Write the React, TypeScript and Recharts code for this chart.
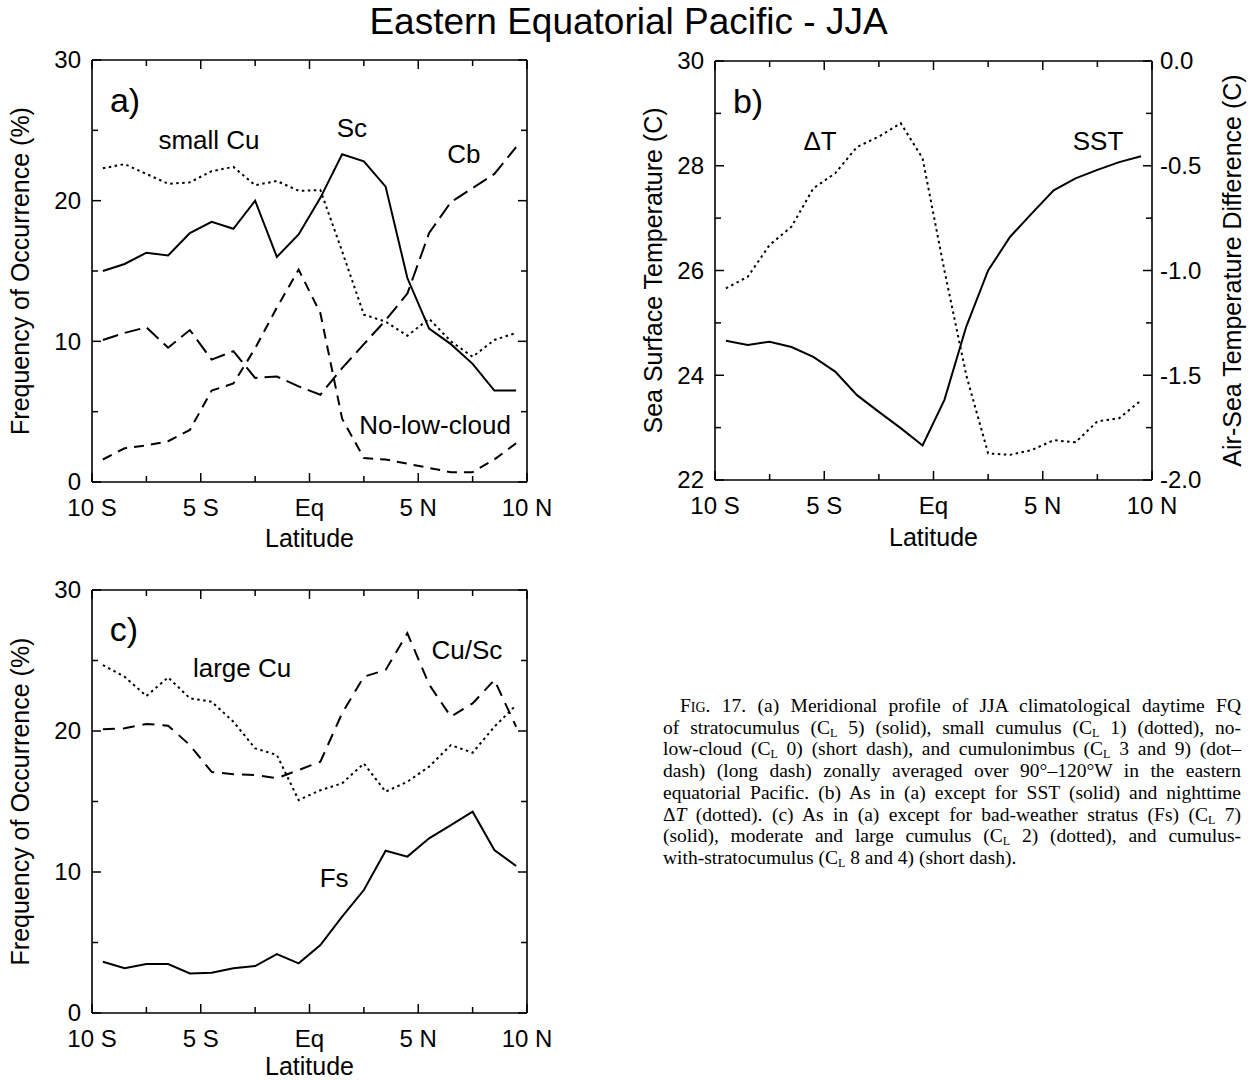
import React from "react";
import { LineChart, Line, XAxis, YAxis, ReferenceDot } from "recharts";

const FONT = "'Liberation Sans', Arial, Helvetica, sans-serif";
const SERIF = "'Liberation Serif', 'Times New Roman', serif";

// 1-degree bin centres, 10S..10N
const latitudes = [-9.5, -8.5, -7.5, -6.5, -5.5, -4.5, -3.5, -2.5, -1.5, -0.5, 0.5, 1.5, 2.5, 3.5, 4.5, 5.5, 6.5, 7.5, 8.5, 9.5];

// (a) frequency of occurrence (%)
const stratocumulus = [15.0, 15.5, 16.3, 16.1, 17.7, 18.5, 18.0, 20.0, 16.0, 17.6, 20.2, 23.3, 22.8, 21.0, 14.5, 10.9, 9.8, 8.4, 6.5, 6.5];
const smallCumulus = [22.3, 22.6, 21.9, 21.2, 21.3, 22.1, 22.4, 21.1, 21.4, 20.7, 20.75, 16.4, 11.9, 11.4, 10.4, 11.6, 10.0, 8.9, 10.1, 10.6];
const noLowCloud = [1.6, 2.4, 2.6, 2.9, 3.7, 6.5, 7.0, 9.5, 12.4, 15.1, 12.0, 4.5, 1.7, 1.6, 1.3, 1.0, 0.7, 0.7, 1.6, 2.75];
const cumulonimbus = [10.1, 10.6, 11.0, 9.55, 10.8, 8.7, 9.3, 7.4, 7.5, 6.8, 6.2, 8.1, 9.8, 11.5, 13.4, 17.7, 19.9, 20.9, 21.9, 23.8];

// (b) SST (C) and air-sea temperature difference (C)
const sst = [24.66, 24.58, 24.64, 24.54, 24.35, 24.07, 23.62, 23.3, 22.99, 22.66, 23.53, 24.93, 26.0, 26.64, 27.09, 27.53, 27.76, 27.92, 28.07, 28.18];
const deltaT = [-1.085, -1.03, -0.878, -0.791, -0.608, -0.536, -0.41, -0.361, -0.297, -0.464, -1.0, -1.5, -1.873, -1.88, -1.857, -1.81, -1.82, -1.72, -1.705, -1.62];

// (c) frequency of occurrence (%)
const fractoStratus = [3.64, 3.17, 3.47, 3.47, 2.81, 2.86, 3.17, 3.33, 4.18, 3.52, 4.82, 6.83, 8.72, 11.51, 11.09, 12.39, 13.33, 14.28, 11.56, 10.43];
const largeCumulus = [24.68, 23.85, 22.48, 23.8, 22.32, 22.08, 20.66, 18.77, 18.3, 15.1, 15.8, 16.29, 17.7, 15.7, 16.4, 17.47, 19.0, 18.46, 20.3, 21.84];
const cuSc = [20.12, 20.19, 20.5, 20.38, 19.0, 17.1, 16.93, 16.88, 16.65, 17.23, 17.82, 21.26, 23.85, 24.33, 26.93, 23.3, 21.02, 21.96, 23.62, 20.3];

// axis ticks
const latTicks = [-10, -7.5, -5, -2.5, 0, 2.5, 5, 7.5, 10];
const latNames: Record<string, string> = { "-10": "10 S", "-5": "5 S", "0": "Eq", "5": "5 N", "10": "10 N" };
const freqTicks = [0, 5, 10, 15, 20, 25, 30];
const sstTicks = [22, 23, 24, 25, 26, 27, 28, 29, 30];
const dtTicks = [-2, -1.75, -1.5, -1.25, -1, -0.75, -0.5, -0.25, 0];

const captionLines = [
  "Fig. 17. (a) Meridional profile of JJA climatological daytime FQ",
  "of stratocumulus (C_L 5) (solid), small cumulus (C_L 1) (dotted), no-",
  "low-cloud (C_L 0) (short dash), and cumulonimbus (C_L 3 and 9) (dot–",
  "dash) (long dash) zonally averaged over 90°–120°W in the eastern",
  "equatorial Pacific. (b) As in (a) except for SST (solid) and nighttime",
  "ΔT (dotted). (c) As in (a) except for bad-weather stratus (Fs) (C_L 7)",
  "(solid), moderate and large cumulus (C_L 2) (dotted), and cumulus-",
  "with-stratocumulus (C_L 8 and 4) (short dash).",
];

const panelA = latitudes.map((lat, i) => ({
  lat,
  sc: stratocumulus[i],
  cu: smallCumulus[i],
  none: noLowCloud[i],
  cb: cumulonimbus[i],
}));
const panelB = latitudes.map((lat, i) => ({ lat, sst: sst[i], dt: deltaT[i] }));
const panelC = latitudes.map((lat, i) => ({ lat, fs: fractoStratus[i], lcu: largeCumulus[i], cusc: cuSc[i] }));

const latLabel = (v: number) => latNames[String(v)] ?? null;
const freqLabel = (v: number) => (v % 10 === 0 ? String(v) : null);
const sstLabel = (v: number) => (v % 2 === 0 ? String(v) : null);
const dtLabel = (v: number) => (Math.abs(v * 2 - Math.round(v * 2)) < 1e-9 ? v.toFixed(1) : null);

const TICK_FONT = 24;
const frame = { stroke: "#000", strokeWidth: 1.6 };

type Side = "bottom" | "top" | "left" | "right";

// inward ticks, labels only on the major ones
function tickRenderer(side: Side, labelFor: (v: number) => string | null, showLabels = true) {
  return (props: any) => {
    const { x, y, payload } = props;
    const name = labelFor(payload.value);
    const len = name !== null ? 9 : 6;
    const text = showLabels ? name : null;
    let pts = [x, y, x, y];
    let label = null;
    const common = { fontSize: TICK_FONT, fontFamily: FONT, fill: "#000" };
    if (side === "bottom") {
      pts = [x, y, x, y - len];
      if (text) label = <text x={x} y={y + 26} dy="0.35em" textAnchor="middle" {...common}>{text}</text>;
    } else if (side === "top") {
      pts = [x, y, x, y + len];
    } else if (side === "left") {
      pts = [x, y, x + len, y];
      if (text) label = <text x={x - 11} y={y} dy="0.35em" textAnchor="end" {...common}>{text}</text>;
    } else {
      pts = [x, y, x - len, y];
      if (text) label = <text x={x + 8} y={y} dy="0.35em" textAnchor="start" {...common}>{text}</text>;
    }
    return (
      <g>
        <line x1={pts[0]} y1={pts[1]} x2={pts[2]} y2={pts[3]} stroke="#000" strokeWidth={1.5} />
        {label}
      </g>
    );
  };
}

const hTitle = (text: string, offset: number) => (props: any) => {
  const vb = props.viewBox;
  return (
    <text x={vb.x + vb.width / 2} y={vb.y + offset} dy="0.35em" textAnchor="middle" fontSize={25} fontFamily={FONT} fill="#000">
      {text}
    </text>
  );
};

const vTitle = (text: string, cx: number) => (props: any) => {
  const vb = props.viewBox;
  const x = vb.x + cx;
  const y = vb.y + vb.height / 2;
  return (
    <text x={x} y={y} dy="0.35em" textAnchor="middle" transform={`rotate(-90, ${x}, ${y})`} fontSize={25} fontFamily={FONT} fill="#000">
      {text}
    </text>
  );
};

const note = (text: string, size = 26) => (props: any) => {
  const vb = props.viewBox;
  return (
    <text x={vb.x + vb.width / 2} y={vb.y + vb.height / 2} dy="0.35em" textAnchor="middle" fontSize={size} fontFamily={FONT} fill="#000">
      {text}
    </text>
  );
};

function renderRich(line: string) {
  const parts = line.split(/(C_L|Fig\.|ΔT)/);
  return parts.map((p, i) => {
    if (p === "C_L")
      return (
        <span key={i}>
          C<sub style={{ fontSize: 12, verticalAlign: "-3px", lineHeight: 0 }}>L</sub>
        </span>
      );
    if (p === "Fig.") return <span key={i} style={{ fontVariant: "small-caps" }}>Fig.</span>;
    if (p === "ΔT")
      return (
        <span key={i}>
          Δ<i>T</i>
        </span>
      );
    return <span key={i}>{p}</span>;
  });
}

const dotted = "2.5 3.5";

export default function App() {
  return (
    <div style={{ position: "absolute", left: 0, top: 0, width: 1257, height: 1080, overflow: "hidden", background: "#fff" }}>
      <div style={{ position: "absolute", left: 0, top: 1, width: 1257, textAlign: "center", fontFamily: FONT, fontSize: 37, lineHeight: "42px" }}>
        Eastern Equatorial Pacific - JJA
      </div>

      {/* (a) */}
      <div style={{ position: "absolute", left: 0, top: 40 }}>
        <LineChart width={560} height={530} data={panelA} margin={{ top: 19, right: 32, bottom: 0, left: 0 }}>
          <XAxis xAxisId="x" dataKey="lat" type="number" domain={[-10, 10]} allowDataOverflow ticks={latTicks} interval={0} tickSize={0} tickMargin={0} height={88} axisLine={frame} tickLine={false} tick={tickRenderer("bottom", latLabel)} label={hTitle("Latitude", 56)} />
          <XAxis xAxisId="xt" orientation="top" dataKey="lat" type="number" domain={[-10, 10]} allowDataOverflow ticks={latTicks} interval={0} tickSize={0} tickMargin={0} height={1} axisLine={frame} tickLine={false} tick={tickRenderer("top", latLabel, false)} />
          <YAxis yAxisId="y" type="number" domain={[0, 30]} allowDataOverflow ticks={freqTicks} interval={0} tickSize={0} tickMargin={0} width={92} axisLine={frame} tickLine={false} tick={tickRenderer("left", freqLabel)} label={vTitle("Frequency of Occurrence (%)", 20)} />
          <YAxis yAxisId="yr" orientation="right" type="number" domain={[0, 30]} allowDataOverflow ticks={freqTicks} interval={0} tickSize={0} tickMargin={0} width={1} axisLine={frame} tickLine={false} tick={tickRenderer("right", freqLabel, false)} />
          <Line xAxisId="x" yAxisId="y" dataKey="sc" stroke="#000" strokeWidth={2} dot={false} isAnimationActive={false} />
          <Line xAxisId="x" yAxisId="y" dataKey="cu" stroke="#000" strokeWidth={2} strokeDasharray={dotted} dot={false} isAnimationActive={false} />
          <Line xAxisId="x" yAxisId="y" dataKey="none" stroke="#000" strokeWidth={2} strokeDasharray="10 7" dot={false} isAnimationActive={false} />
          <Line xAxisId="x" yAxisId="y" dataKey="cb" stroke="#000" strokeWidth={2} strokeDasharray="16 7" dot={false} isAnimationActive={false} />
          <ReferenceDot xAxisId="x" yAxisId="y" x={-8.48} y={27.15} r={0} fill="none" stroke="none" label={note("a)", 34)} />
          <ReferenceDot xAxisId="x" yAxisId="y" x={-4.62} y={24.3} r={0} fill="none" stroke="none" label={note("small Cu")} />
          <ReferenceDot xAxisId="x" yAxisId="y" x={1.95} y={25.2} r={0} fill="none" stroke="none" label={note("Sc")} />
          <ReferenceDot xAxisId="x" yAxisId="y" x={7.1} y={23.3} r={0} fill="none" stroke="none" label={note("Cb")} />
          <ReferenceDot xAxisId="x" yAxisId="y" x={5.77} y={4.05} r={0} fill="none" stroke="none" label={note("No-low-cloud")} />
        </LineChart>
      </div>

      {/* (b) */}
      <div style={{ position: "absolute", left: 620, top: 40 }}>
        <LineChart width={637} height={528} data={panelB} margin={{ top: 20, right: 0, bottom: 0, left: 0 }}>
          <XAxis xAxisId="x" dataKey="lat" type="number" domain={[-10, 10]} allowDataOverflow ticks={latTicks} interval={0} tickSize={0} tickMargin={0} height={88} axisLine={frame} tickLine={false} tick={tickRenderer("bottom", latLabel)} label={hTitle("Latitude", 57)} />
          <XAxis xAxisId="xt" orientation="top" dataKey="lat" type="number" domain={[-10, 10]} allowDataOverflow ticks={latTicks} interval={0} tickSize={0} tickMargin={0} height={1} axisLine={frame} tickLine={false} tick={tickRenderer("top", latLabel, false)} />
          <YAxis yAxisId="sst" type="number" domain={[22, 30]} allowDataOverflow ticks={sstTicks} interval={0} tickSize={0} tickMargin={0} width={95} axisLine={frame} tickLine={false} tick={tickRenderer("left", sstLabel)} label={vTitle("Sea Surface Temperature (C)", 33)} />
          <YAxis yAxisId="dt" orientation="right" type="number" domain={[-2, 0]} allowDataOverflow ticks={dtTicks} interval={0} tickSize={0} tickMargin={0} width={105} axisLine={frame} tickLine={false} tick={tickRenderer("right", dtLabel)} label={vTitle("Air-Sea Temperature Difference (C)", 80)} />
          <Line xAxisId="x" yAxisId="sst" dataKey="sst" stroke="#000" strokeWidth={2} dot={false} isAnimationActive={false} />
          <Line xAxisId="x" yAxisId="dt" dataKey="dt" stroke="#000" strokeWidth={2} strokeDasharray={dotted} dot={false} isAnimationActive={false} />
          <ReferenceDot xAxisId="x" yAxisId="sst" x={-8.49} y={29.23} r={0} fill="none" stroke="none" label={note("b)", 34)} />
          <ReferenceDot xAxisId="x" yAxisId="sst" x={-5.19} y={28.47} r={0} fill="none" stroke="none" label={note("ΔT")} />
          <ReferenceDot xAxisId="x" yAxisId="sst" x={7.53} y={28.47} r={0} fill="none" stroke="none" label={note("SST")} />
        </LineChart>
      </div>

      {/* (c) */}
      <div style={{ position: "absolute", left: 0, top: 570 }}>
        <LineChart width={560} height={510} data={panelC} margin={{ top: 19, right: 32, bottom: 0, left: 0 }}>
          <XAxis xAxisId="x" dataKey="lat" type="number" domain={[-10, 10]} allowDataOverflow ticks={latTicks} interval={0} tickSize={0} tickMargin={0} height={67} axisLine={frame} tickLine={false} tick={tickRenderer("bottom", latLabel)} label={hTitle("Latitude", 53)} />
          <XAxis xAxisId="xt" orientation="top" dataKey="lat" type="number" domain={[-10, 10]} allowDataOverflow ticks={latTicks} interval={0} tickSize={0} tickMargin={0} height={1} axisLine={frame} tickLine={false} tick={tickRenderer("top", latLabel, false)} />
          <YAxis yAxisId="y" type="number" domain={[0, 30]} allowDataOverflow ticks={freqTicks} interval={0} tickSize={0} tickMargin={0} width={92} axisLine={frame} tickLine={false} tick={tickRenderer("left", freqLabel)} label={vTitle("Frequency of Occurrence (%)", 20)} />
          <YAxis yAxisId="yr" orientation="right" type="number" domain={[0, 30]} allowDataOverflow ticks={freqTicks} interval={0} tickSize={0} tickMargin={0} width={1} axisLine={frame} tickLine={false} tick={tickRenderer("right", freqLabel, false)} />
          <Line xAxisId="x" yAxisId="y" dataKey="fs" stroke="#000" strokeWidth={2} dot={false} isAnimationActive={false} />
          <Line xAxisId="x" yAxisId="y" dataKey="lcu" stroke="#000" strokeWidth={2} strokeDasharray={dotted} dot={false} isAnimationActive={false} />
          <Line xAxisId="x" yAxisId="y" dataKey="cusc" stroke="#000" strokeWidth={2} strokeDasharray="12 8" dot={false} isAnimationActive={false} />
          <ReferenceDot xAxisId="x" yAxisId="y" x={-8.53} y={27.23} r={0} fill="none" stroke="none" label={note("c)", 34)} />
          <ReferenceDot xAxisId="x" yAxisId="y" x={-3.1} y={24.47} r={0} fill="none" stroke="none" label={note("large Cu")} />
          <ReferenceDot xAxisId="x" yAxisId="y" x={7.24} y={25.74} r={0} fill="none" stroke="none" label={note("Cu/Sc")} />
          <ReferenceDot xAxisId="x" yAxisId="y" x={1.13} y={9.57} r={0} fill="none" stroke="none" label={note("Fs")} />
        </LineChart>
      </div>

      {/* caption */}
      <div style={{ position: "absolute", left: 663, top: 695, width: 578, fontFamily: SERIF, fontSize: 19.5, lineHeight: "21.7px", color: "#000" }}>
        {captionLines.map((line, i) => {
          const last = i === captionLines.length - 1;
          return (
            <div
              key={i}
              style={{
                whiteSpace: "nowrap",
                textAlign: last ? "left" : "justify",
                textAlignLast: last ? "left" : "justify",
                paddingLeft: i === 0 ? 17 : 0,
              }}
            >
              {renderRich(line)}
            </div>
          );
        })}
      </div>
    </div>
  );
}
